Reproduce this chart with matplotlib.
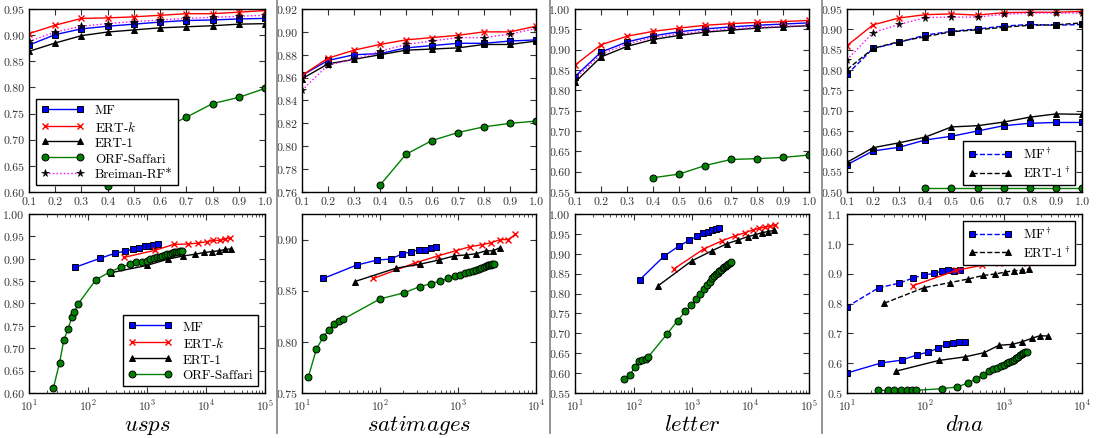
import numpy as np
import matplotlib
matplotlib.use("Agg")
import matplotlib.pyplot as plt
from matplotlib.lines import Line2D
from matplotlib.ticker import MultipleLocator, FormatStrFormatter

plt.rcParams.update({
    "font.family": "serif",
    "font.serif": ["cmr10"],
    "mathtext.fontset": "cm",
    "axes.formatter.use_mathtext": True,
    "axes.unicode_minus": False,
    "xtick.direction": "in",
    "ytick.direction": "in",
    "xtick.top": True,
    "ytick.right": True,
    "xtick.major.size": 4,
    "ytick.major.size": 4,
    "xtick.minor.size": 2,
    "ytick.minor.size": 2,
    "xtick.labelsize": 8.5,
    "ytick.labelsize": 8.5,
    "xtick.color": "#333333",
    "ytick.color": "#333333",
    "axes.linewidth": 1.0,
})

# fraction of data used (top row)
frac = [0.1, 0.2, 0.3, 0.4, 0.5, 0.6, 0.7, 0.8, 0.9, 1.0]
frac_orf = [0.4, 0.5, 0.6, 0.7, 0.8, 0.9, 1.0]

# ---- usps ----
usps_mf_n = [61, 160, 283, 425, 582, 745, 918, 1089, 1274, 1510]
usps_mf = [0.881, 0.901, 0.912, 0.917, 0.921, 0.925, 0.928, 0.929, 0.931, 0.932]
usps_ertk_n = [403, 1377, 2827, 4955, 7430, 10300, 13370, 17140, 20840, 25370]
usps_ertk = [0.903, 0.919, 0.932, 0.933, 0.935, 0.938, 0.941, 0.941, 0.944, 0.947]
usps_ert1_n = [249, 993, 2232, 4020, 6440, 9400, 12700, 16900, 21400, 26400]
usps_ert1 = [0.869, 0.885, 0.899, 0.906, 0.910, 0.914, 0.916, 0.918, 0.921, 0.922]
usps_orf_n = [26, 33, 39, 46, 53, 59, 67, 136, 239, 359, 518, 655, 828, 993,
              1133, 1305, 1469, 1633, 1815, 2011, 2207, 2415, 2644, 2860,
              3090, 3342, 3612, 3906]
usps_orf = [0.612, 0.668, 0.719, 0.743, 0.769, 0.781, 0.798, 0.853, 0.871,
            0.881, 0.888, 0.892, 0.893, 0.896, 0.899, 0.901, 0.903, 0.905,
            0.907, 0.908, 0.910, 0.911, 0.913, 0.914, 0.915, 0.916, 0.917, 0.917]
usps_rf = [0.888, 0.906, 0.917, 0.922, 0.926, 0.929, 0.932, 0.934, 0.936, 0.938]

# ---- satimages ----
sat_mf_n = [18.8, 50, 92, 139, 191, 250, 316, 378, 447, 529]
sat_mf = [0.862, 0.875, 0.880, 0.881, 0.886, 0.888, 0.890, 0.890, 0.892, 0.893]
sat_ertk_n = [82, 278, 551, 929, 1423, 2050, 2680, 3465, 4400, 5400]
sat_ertk = [0.862, 0.877, 0.884, 0.889, 0.893, 0.895, 0.897, 0.900, 0.900, 0.905]
sat_ert1_n = [47.7, 160, 329, 567, 894, 1250, 1683, 2264, 2818, 3434]
sat_ert1 = [0.859, 0.872, 0.876, 0.880, 0.884, 0.885, 0.886, 0.889, 0.889, 0.892]
sat_orf_n = [12.1, 15.3, 18.8, 22.1, 25.9, 29.4, 33.4, 100, 205, 323, 456, 596,
             748, 912, 1058, 1214, 1380, 1555, 1717, 1859, 1991, 2134, 2264,
             2403, 2525, 2652, 2760, 2929]
sat_orf = [0.766, 0.793, 0.805, 0.812, 0.817, 0.820, 0.822, 0.842, 0.848,
           0.854, 0.857, 0.8595, 0.862, 0.864, 0.8655, 0.867, 0.868, 0.869,
           0.870, 0.871, 0.872, 0.873, 0.874, 0.875, 0.875, 0.8755, 0.876, 0.876]
sat_rf = [0.849, 0.871, 0.876, 0.883, 0.889, 0.892, 0.895, 0.895, 0.898, 0.903]

# ---- letter ----
let_mf_n = [127, 332, 592, 900, 1233, 1562, 1903, 2227, 2540, 2860]
let_mf = [0.834, 0.894, 0.919, 0.934, 0.944, 0.951, 0.956, 0.960, 0.963, 0.966]
let_ertk_n = [492, 1582, 3300, 5440, 8050, 11040, 14170, 17700, 21530, 26600]
let_ertk = [0.862, 0.912, 0.933, 0.945, 0.953, 0.960, 0.964, 0.967, 0.969, 0.972]
let_ert1_n = [266, 986, 2228, 3920, 6200, 8950, 12100, 15700, 20200, 25500]
let_ert1 = [0.820, 0.882, 0.908, 0.925, 0.935, 0.943, 0.948, 0.953, 0.956, 0.959]
let_orf_n = [68.7, 86, 104.5, 124, 141, 161, 179, 373, 567, 769, 973, 1185,
             1369, 1602, 1803, 2000, 2198, 2378, 2572, 2743, 2933, 3133, 3345,
             3568, 3760, 3974, 4180, 4466, 4700]
let_orf = [0.585, 0.594, 0.615, 0.630, 0.632, 0.635, 0.641, 0.698, 0.732,
           0.755, 0.772, 0.786, 0.799, 0.811, 0.821, 0.830, 0.838, 0.843,
           0.848, 0.852, 0.857, 0.860, 0.863, 0.867, 0.869, 0.872, 0.875,
           0.878, 0.880]
let_rf = [0.828, 0.889, 0.914, 0.930, 0.939, 0.946, 0.951, 0.955, 0.957, 0.960]

# ---- dna ----
dna_mf_n = [10, 27.5, 49.8, 78.8, 109, 145, 182, 226, 270, 319]
dna_mf = [0.567, 0.601, 0.610, 0.628, 0.637, 0.650, 0.663, 0.669, 0.671, 0.671]
dna_mfd_n = [10, 25.5, 46.4, 70.2, 97, 128, 162, 197, 233, 278]
dna_mfd = [0.789, 0.853, 0.868, 0.886, 0.895, 0.901, 0.908, 0.912, 0.910, 0.912]
dna_ertk_n = [70, 249, 527, 871, 1370, 1972, 2600, 3260, 4050, 5020]
dna_ertk = [0.860, 0.911, 0.928, 0.936, 0.938, 0.935, 0.941, 0.942, 0.942, 0.944]
dna_ert1_n = [42, 148, 319, 560, 871, 1291, 1734, 2333, 2897, 3630]
dna_ert1 = [0.573, 0.609, 0.621, 0.635, 0.660, 0.663, 0.672, 0.684, 0.692, 0.691]
dna_ert1d_n = [30, 96, 205, 352, 548, 782, 1030, 1343, 1718, 2133]
dna_ert1d = [0.801, 0.853, 0.870, 0.882, 0.894, 0.899, 0.905, 0.910, 0.911, 0.916]
dna_orf_n = [25.2, 33.2, 40.4, 49.2, 58.1, 67.3, 76.5, 163, 254, 351, 445, 547,
             648, 736, 828, 916, 1000, 1092, 1180, 1267, 1357, 1438, 1525,
             1617, 1701, 1786, 1879, 1974]
dna_orf = [0.509, 0.509, 0.509, 0.509, 0.509, 0.509, 0.509, 0.5145, 0.520,
           0.534, 0.548, 0.559, 0.573, 0.581, 0.585, 0.590, 0.594, 0.599,
           0.603, 0.608, 0.612, 0.617, 0.621, 0.626, 0.630, 0.633, 0.637, 0.639]
dna_rf = [0.825, 0.892, 0.912, 0.929, 0.930, 0.930, 0.937, 0.940, 0.940, 0.940]

names = ["usps", "satimages", "letter", "dna"]

STY = {
    "MF": dict(color="#0000ff", marker="s", mfc="#0000ff", mec="black",
               ms=4.8, mew=0.7, lw=1.0),
    "ERTk": dict(color="red", marker="x", mfc="red", mec="red",
                 ms=5, mew=1.0, lw=1.0),
    "ERT1": dict(color="black", marker="^", mfc="black", mec="black",
                 ms=5, mew=0.7, lw=1.0),
    "ORF": dict(color="#008000", marker="o", mfc="#008000", mec="black",
                ms=5, mew=0.7, lw=1.0),
    "RF": dict(color="#ff00ff", ls=":", marker="*", mfc="black", mec="black",
               ms=5.5, mew=0.5, lw=1.0),
}

W, H = 1099, 439
fig = plt.figure(figsize=(W / 100, H / 100), dpi=100)

cols = [(29, 265), (302, 536), (575, 809), (847, 1082)]
top_y = (10, 193)
bot_y = (215, 394)


def ax_at(x0, x1, y0, y1):
    return fig.add_axes([x0 / W, 1 - y1 / H, (x1 - x0) / W, (y1 - y0) / H])


top_axes = [ax_at(c[0], c[1], *top_y) for c in cols]
bot_axes = [ax_at(c[0], c[1], *bot_y) for c in cols]

top_data = [
    dict(mf=usps_mf, ertk=usps_ertk, ert1=usps_ert1, orf=usps_orf, rf=usps_rf),
    dict(mf=sat_mf, ertk=sat_ertk, ert1=sat_ert1, orf=sat_orf, rf=sat_rf),
    dict(mf=let_mf, ertk=let_ertk, ert1=let_ert1, orf=let_orf, rf=let_rf),
]
top_ylims = [(0.60, 0.95, 0.05), (0.76, 0.92, 0.02), (0.55, 1.00, 0.05),
             (0.50, 0.95, 0.05)]

# ---- top row: accuracy vs fraction of data ----
for i, ax in enumerate(top_axes):
    if i < 3:
        d = top_data[i]
        ax.plot(frac, d["mf"], label="MF", **STY["MF"])
        ax.plot(frac, d["ertk"], label="ERT-$k$", **STY["ERTk"])
        ax.plot(frac, d["ert1"], label="ERT-1", **STY["ERT1"])
        ax.plot(frac_orf, d["orf"][:7], label="ORF-Saffari", **STY["ORF"])
        ax.plot(frac, d["rf"], label="Breiman-RF*", **STY["RF"])
    else:
        ax.plot(frac, dna_mf, **STY["MF"])
        ax.plot(frac, dna_mfd, label=r"MF$^\dagger$",
                **dict(STY["MF"], ls="--"))
        ax.plot(frac, dna_ertk, **STY["ERTk"])
        ax.plot(frac, dna_ert1, **STY["ERT1"])
        ax.plot(frac, dna_ert1d, label=r"ERT-1$^\dagger$",
                **dict(STY["ERT1"], ls="--"))
        ax.plot(frac_orf, dna_orf[:7], **STY["ORF"])
        ax.plot(frac, dna_rf, **STY["RF"])
    lo, hi, step = top_ylims[i]
    ax.set_xlim(0.1, 1.0)
    ax.set_ylim(lo, hi)
    ax.xaxis.set_major_locator(MultipleLocator(0.1))
    ax.yaxis.set_major_locator(MultipleLocator(step))
    ax.xaxis.set_major_formatter(FormatStrFormatter("%.1f"))
    ax.yaxis.set_major_formatter(FormatStrFormatter("%.2f"))

leg_kw = dict(fontsize=9.5, numpoints=2, handlelength=3.3, fancybox=False,
              framealpha=1.0, edgecolor="black", labelspacing=0.25,
              borderpad=0.4, handletextpad=0.8)
lg = top_axes[0].legend(loc="lower left", **leg_kw)
lg.get_frame().set_linewidth(1.0)
lg = top_axes[3].legend(loc="lower right", **leg_kw)
lg.get_frame().set_linewidth(1.0)

# ---- bottom row: accuracy vs number of data points seen ----
bot_series = [
    (usps_mf_n, usps_mf, usps_ertk_n, usps_ertk, usps_ert1_n, usps_ert1,
     usps_orf_n, usps_orf),
    (sat_mf_n, sat_mf, sat_ertk_n, sat_ertk, sat_ert1_n, sat_ert1,
     sat_orf_n, sat_orf),
    (let_mf_n, let_mf, let_ertk_n, let_ertk, let_ert1_n, let_ert1,
     let_orf_n, let_orf),
]
bot_xlims = [(1e1, 1e5), (1e1, 1e4), (1e1, 1e5), (1e1, 1e4)]
bot_ylims = [(0.60, 1.00, 0.05, "%.2f"), (0.75, 0.925, 0.05, "%.2f"),
             (0.55, 1.00, 0.05, "%.2f"), (0.5, 1.1, 0.1, "%.1f")]

for i, ax in enumerate(bot_axes):
    ax.set_xscale("log")
    if i < 3:
        mn, m, kn, k, on, o, gn, g = bot_series[i]
        ax.plot(mn, m, label="MF", **STY["MF"])
        ax.plot(kn, k, label="ERT-$k$", **STY["ERTk"])
        ax.plot(on, o, label="ERT-1", **STY["ERT1"])
        ax.plot(gn, g, label="ORF-Saffari", **STY["ORF"])
    else:
        ax.plot(dna_mf_n, dna_mf, **STY["MF"])
        ax.plot(dna_mfd_n, dna_mfd, label=r"MF$^\dagger$",
                **dict(STY["MF"], ls="--"))
        ax.plot(dna_ertk_n, dna_ertk, **STY["ERTk"])
        ax.plot(dna_ert1_n, dna_ert1, **STY["ERT1"])
        ax.plot(dna_ert1d_n, dna_ert1d, label=r"ERT-1$^\dagger$",
                **dict(STY["ERT1"], ls="--"))
        ax.plot(dna_orf_n, dna_orf, **STY["ORF"])
    ax.set_xlim(*bot_xlims[i])
    lo, hi, step, fmt = bot_ylims[i]
    ax.set_ylim(lo, hi)
    ax.yaxis.set_major_locator(MultipleLocator(step))
    ax.yaxis.set_major_formatter(FormatStrFormatter(fmt))
    cx = (cols[i][0] + cols[i][1]) / 2 / W
    fig.text(cx, 1 - 431 / H, "$" + names[i] + "$", ha="center",
             va="baseline", fontsize=16.5)

lg = bot_axes[0].legend(loc="lower right", **leg_kw)
lg.get_frame().set_linewidth(1.0)
lg = bot_axes[3].legend(loc="upper right", **leg_kw)
lg.get_frame().set_linewidth(1.0)

# column separators
for xs in (276.5, 549.5, 822.5):
    fig.add_artist(Line2D([xs / W, xs / W], [1 - 434 / H, 1.0],
                          transform=fig.transFigure, color="#8c8c8c", lw=1.3))

fig.savefig("out.png", dpi=100)
